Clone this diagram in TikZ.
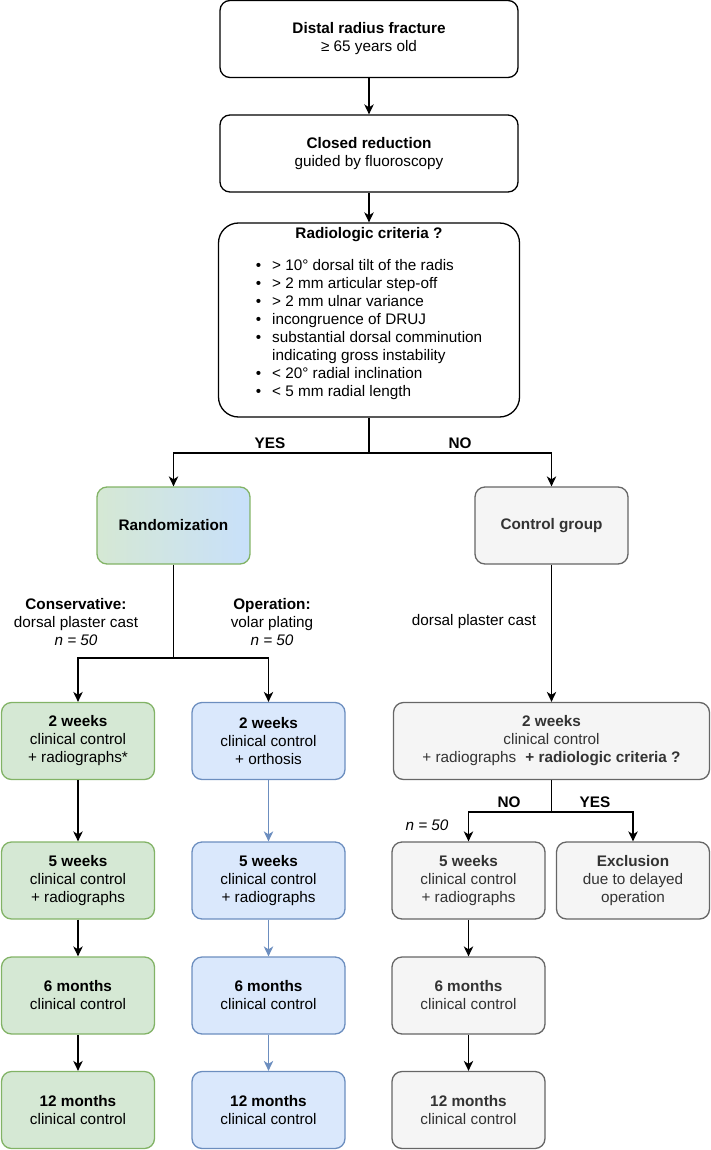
\documentclass[tikz,border=0pt]{standalone}
\usepackage{fontspec}
\setmainfont{Liberation Sans}
\usetikzlibrary{arrows.meta, positioning}

\definecolor{grnfill}{HTML}{D5E8D4}
\definecolor{grnline}{HTML}{82B366}
\definecolor{blufill}{HTML}{DAE8FC}
\definecolor{bluline}{HTML}{6C8EBF}
\definecolor{blushade}{HTML}{C8E0FA}
\definecolor{gryfill}{HTML}{F5F5F5}
\definecolor{gryline}{HTML}{666666}
\definecolor{grytext}{HTML}{333333}

\begin{document}
\begin{tikzpicture}[x=1pt, y=-1pt,
    font=\fontsize{15.3}{18}\selectfont,
    box/.style={draw, line width=1.3pt, rounded corners=10pt, align=center,
        inner sep=0pt, minimum width=153pt, minimum height=77pt},
    plainbox/.style={box, fill=white, minimum width=298pt},
    critbox/.style={box, rounded corners=20pt, minimum width=301pt, minimum height=194pt},
    grnbox/.style={box, draw=grnline, fill=grnfill},
    blubox/.style={box, draw=bluline, fill=blufill},
    grybox/.style={box, draw=gryline, fill=gryfill, text=grytext},
    randbox/.style={box, draw=grnline, left color=grnfill, right color=blushade},
    lbl/.style={align=center, inner sep=0pt},
    arr/.style={-{Stealth[length=10pt, width=9.5pt, inset=3pt]}, line width=1.3pt},
    bluarr/.style={arr, draw=bluline, fill=bluline}]
    \useasboundingbox (0,0) rectangle (710,1150);

    % main line
    \node[plainbox] (fracture) at (369,39) {\textbf{Distal radius fracture}\\≥ 65 years old};
    \node[plainbox] (reduction) at (369,153.5) {\textbf{Closed reduction}\\guided by fluoroscopy};
    \node[critbox] (criteria) at (369,320) {%
        \begin{tabular}{@{}l@{\hspace{11pt}}l@{}}
        \multicolumn{2}{@{}c@{}}{\textbf{Radiologic criteria ?}}\\[14pt]
        \textbullet & > 10° dorsal tilt of the radis\\
        \textbullet & > 2 mm articular step-off\\
        \textbullet & > 2 mm ulnar variance\\
        \textbullet & incongruence of DRUJ\\
        \textbullet & substantial dorsal comminution\\
                    & indicating gross instability\\
        \textbullet & < 20° radial inclination\\
        \textbullet & < 5 mm radial length\\[13pt]
        \end{tabular}};
    \draw[arr] (fracture) -- (reduction);
    \draw[arr] (reduction) -- (criteria);

    % yes / no
    \coordinate (split) at (369,453);
    \node[lbl] (yes) at (270,443) {\textbf{YES}};
    \node[lbl] (no) at (460,443) {\textbf{NO}};
    \node[randbox] (rand) at (173.5,525.5) {\textbf{Randomization}};
    \node[grybox] (ctrl) at (551.5,525.5) {\textbf{Control group}};
    \draw[line width=1.3pt] (criteria.south) -- (split);
    \draw[arr] (split) -| (rand.north);
    \draw[arr] (split) -| (ctrl.north);

    % arms
    \node[lbl] (conslbl) at (76,622) {\textbf{Conservative:}\\dorsal plaster cast\\\textit{n = 50}};
    \node[lbl] (oplbl) at (272,622) {\textbf{Operation:}\\volar plating\\\textit{n = 50}};
    \node[lbl] (ctrllbl) at (474,622) {dorsal plaster cast};
    \coordinate (rsplit) at (173.5,658);

    % 2 weeks
    \node[grnbox] (con2) at (78,741) {\textbf{2 weeks}\\clinical control\\+ radiographs*};
    \node[blubox] (op2) at (268.5,741) {\textbf{2 weeks}\\clinical control\\+ orthosis};
    \node[grybox, minimum width=316pt] (ctl2) at (551.5,741)
        {\textbf{2 weeks}\\clinical control\\+ radiographs\hspace{9pt}\textbf{+ radiologic criteria ?}};
    \draw[line width=1.3pt] (rand.south) -- (rsplit);
    \draw[arr] (rsplit) -| (con2.north);
    \draw[arr] (rsplit) -| (op2.north);
    \draw[arr] (ctrl.south) -- (ctl2.north);

    % control split
    \coordinate (csplit) at (551.5,812);
    \node[lbl] (no2) at (509,802) {\textbf{NO}};
    \node[lbl] (yes2) at (595,802) {\textbf{YES}};
    \node[lbl] (ctrln) at (427,825) {\textit{n = 50}};

    % 5 weeks
    \node[grnbox] (con5) at (78,880.5) {\textbf{5 weeks}\\clinical control\\+ radiographs};
    \node[blubox] (op5) at (268.5,880.5) {\textbf{5 weeks}\\clinical control\\+ radiographs};
    \node[grybox] (ctl5) at (468.5,880.5) {\textbf{5 weeks}\\clinical control\\+ radiographs};
    \node[grybox] (excl) at (633,880.5) {\textbf{Exclusion}\\due to delayed\\operation};
    \draw[arr] (con2) -- (con5);
    \draw[bluarr] (op2) -- (op5);
    \draw[line width=1.3pt] (ctl2.south) -- (csplit);
    \draw[arr] (csplit) -| (ctl5.north);
    \draw[arr] (csplit) -| (excl.north);

    % 6 months
    \node[grnbox] (con6) at (78,995.5) {\textbf{6 months}\\clinical control};
    \node[blubox] (op6) at (268.5,995.5) {\textbf{6 months}\\clinical control};
    \node[grybox] (ctl6) at (468.5,995.5) {\textbf{6 months}\\clinical control};
    \draw[arr] (con5) -- (con6);
    \draw[bluarr] (op5) -- (op6);
    \draw[arr] (ctl5) -- (ctl6);

    % 12 months
    \node[grnbox] (con12) at (78,1110) {\textbf{12 months}\\clinical control};
    \node[blubox] (op12) at (268.5,1110) {\textbf{12 months}\\clinical control};
    \node[grybox] (ctl12) at (468.5,1110) {\textbf{12 months}\\clinical control};
    \draw[arr] (con6) -- (con12);
    \draw[bluarr] (op6) -- (op12);
    \draw[arr] (ctl6) -- (ctl12);
\end{tikzpicture}
\end{document}
